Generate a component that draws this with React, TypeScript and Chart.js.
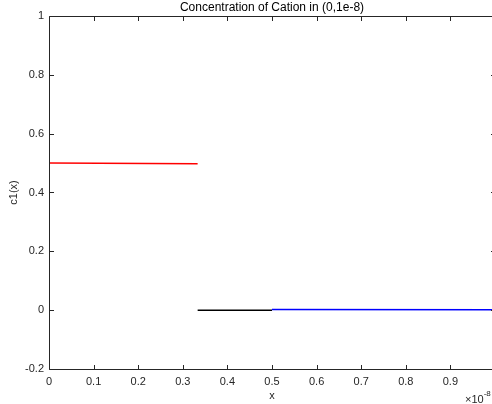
import React, { useEffect, useRef } from "react";
import { Chart, registerables } from "chart.js";

Chart.register(...registerables);

const titleText = "Concentration of Cation in (0,1e-8)";
const xLabel = "x";
const yLabel = "c1(x)";
const xExponent = "-8";

const redX = [0, 0.3333];
const redY = [0.5, 0.498];
const blackX = [0.3333, 0.5];
const blackY = [0, 0];
const blueX = [0.5, 1];
const blueY = [0.002, 0.001];

const xTicks = [0, 0.1, 0.2, 0.3, 0.4, 0.5, 0.6, 0.7, 0.8, 0.9, 1];
const yTicks = [-0.2, 0, 0.2, 0.4, 0.6, 0.8, 1];

const FONT = "'Liberation Sans', Arial, Helvetica, sans-serif";
const AXIS = "#262626";

const toPts = (xs: number[], ys: number[]) => xs.map((x, i) => ({ x, y: ys[i] }));

const boxPlugin = {
  id: "matlabBox",
  afterDraw(chart: any) {
    const { ctx, chartArea } = chart;
    const { left, right, top, bottom } = chartArea;
    const xs = chart.scales.x;
    const ys = chart.scales.y;
    ctx.save();
    ctx.strokeStyle = AXIS;
    ctx.lineWidth = 1;
    const L = Math.round(left) + 0.5;
    const R = Math.round(right) + 0.5;
    const T = Math.round(top) + 0.5;
    const B = Math.round(bottom) + 0.5;
    ctx.beginPath();
    ctx.moveTo(L, T);
    ctx.lineTo(R, T);
    ctx.lineTo(R, B);
    ctx.lineTo(L, B);
    ctx.closePath();
    ctx.stroke();
    const tl = 4.5;
    ctx.beginPath();
    for (const v of xTicks) {
      const px = Math.round(xs.getPixelForValue(v)) + 0.5;
      ctx.moveTo(px, B);
      ctx.lineTo(px, B - tl);
      ctx.moveTo(px, T);
      ctx.lineTo(px, T + tl);
    }
    for (const v of yTicks) {
      const py = Math.round(ys.getPixelForValue(v)) + 0.5;
      ctx.moveTo(L, py);
      ctx.lineTo(L + tl, py);
      ctx.moveTo(R, py);
      ctx.lineTo(R - tl, py);
    }
    ctx.stroke();
    // title
    ctx.fillStyle = "#000";
    ctx.font = `12px ${FONT}`;
    ctx.textAlign = "center";
    ctx.textBaseline = "middle";
    ctx.fillText(titleText, (left + right) / 2, 8);
    // exponent label
    ctx.fillStyle = AXIS;
    ctx.textBaseline = "alphabetic";
    ctx.textAlign = "left";
    ctx.font = `11px ${FONT}`;
    const base = "\u00d710";
    const ex = 465;
    const ey = 403;
    ctx.fillText(base, ex, ey);
    const w = ctx.measureText(base).width;
    ctx.font = `8px ${FONT}`;
    ctx.fillText(xExponent, ex + w, ey - 7);
    ctx.restore();
  },
};

export default function App() {
  const ref = useRef<HTMLCanvasElement | null>(null);
  useEffect(() => {
    if (!ref.current) return;
    const chart = new Chart(ref.current, {
      type: "scatter",
      data: {
        datasets: [
          {
            data: toPts(redX, redY),
            showLine: true,
            borderColor: "#ff0000",
            backgroundColor: "#ff0000",
            borderWidth: 1.5,
            pointRadius: 0,
          },
          {
            data: toPts(blackX, blackY),
            showLine: true,
            borderColor: "#000000",
            backgroundColor: "#000000",
            borderWidth: 1.5,
            pointRadius: 0,
          },
          {
            data: toPts(blueX, blueY),
            showLine: true,
            borderColor: "#0000ff",
            backgroundColor: "#0000ff",
            borderWidth: 1.5,
            pointRadius: 0,
          },
        ],
      },
      options: {
        animation: false,
        responsive: false,
        devicePixelRatio: 1,
        layout: { padding: { top: 16, right: 15, bottom: 0, left: 0 } },
        plugins: {
          legend: { display: false },
          tooltip: { enabled: false },
          title: { display: false },
        },
        scales: {
          x: {
            type: "linear",
            min: 0,
            max: 1,
            grid: { display: false, drawTicks: false },
            border: { display: false },
            afterBuildTicks(scale: any) {
              scale.ticks = xTicks.map((v) => ({ value: v }));
            },
            afterFit(scale: any) {
              scale.height = 35;
            },
            ticks: {
              color: AXIS,
              font: { family: FONT, size: 11 },
              padding: 6,
              maxRotation: 0,
              autoSkip: false,
              callback: (v: any) => (v >= 1 ? "" : String(Math.round(v * 10) / 10)),
            },
            title: {
              display: true,
              text: xLabel,
              color: AXIS,
              font: { family: FONT, size: 11 },
              padding: { top: 0, bottom: 1 },
            },
          },
          y: {
            type: "linear",
            min: -0.2,
            max: 1,
            grid: { display: false, drawTicks: false },
            border: { display: false },
            afterBuildTicks(scale: any) {
              scale.ticks = yTicks.map((v) => ({ value: v }));
            },
            afterFit(scale: any) {
              scale.width = 49;
            },
            ticks: {
              color: AXIS,
              font: { family: FONT, size: 11 },
              padding: 5,
              autoSkip: false,
              callback: (v: any) => String(Math.round(v * 10) / 10),
            },
            title: {
              display: true,
              text: yLabel,
              color: AXIS,
              font: { family: FONT, size: 11 },
              padding: { top: 7, bottom: 0 },
            },
          },
        },
      },
      plugins: [boxPlugin],
    } as any);
    return () => chart.destroy();
  }, []);
  return (
    <div style={{ position: "fixed", left: 0, top: 0, width: 492, height: 404, overflow: "hidden", background: "#fff" }}>
      <canvas ref={ref} width={510} height={404} style={{ width: 510, height: 404, display: "block" }} />
    </div>
  );
}
